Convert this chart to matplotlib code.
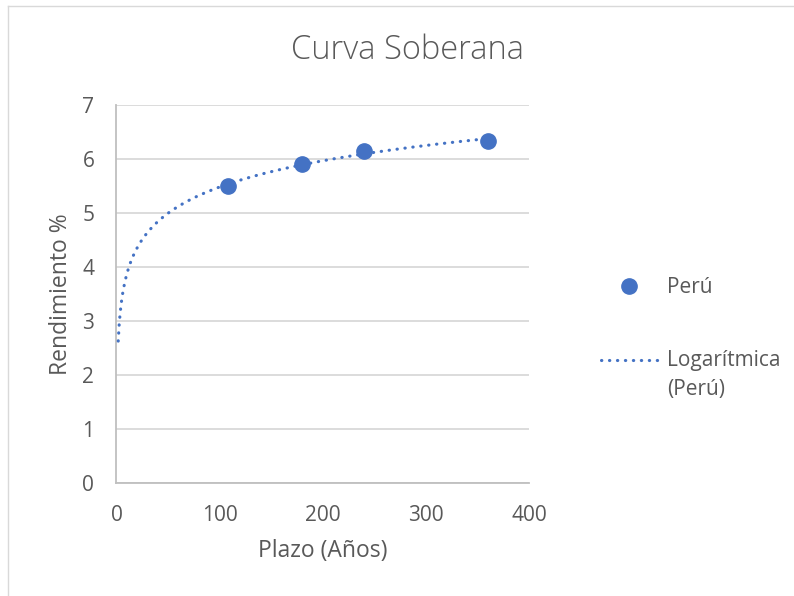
import numpy as np
import matplotlib
matplotlib.use("Agg")
import matplotlib.pyplot as plt
from matplotlib.lines import Line2D
from matplotlib.legend_handler import HandlerLine2D

# datos
plazo = [108, 180, 240, 360]
rendimiento = [5.50, 5.91, 6.14, 6.33]
x_ticks = [0, 100, 200, 300, 400]
y_ticks = [0, 1, 2, 3, 4, 5, 6, 7]

azul = "#4472C4"
gris_texto = "#595959"

plt.rcParams["font.family"] = ["Open Sans", "DejaVu Sans"]


# muestra de leyenda subida para quedar a la altura de la primera linea del texto
class HandlerLineaArriba(HandlerLine2D):
    def __init__(self, subir, **kw):
        super().__init__(**kw)
        self.subir = subir

    def create_artists(self, legend, orig_handle, xdescent, ydescent, width,
                       height, fontsize, trans):
        arts = super().create_artists(legend, orig_handle, xdescent, ydescent,
                                      width, height, fontsize, trans)
        for art in arts:
            art.set_ydata(np.asarray(art.get_ydata()) + self.subir)
        return arts


fig = plt.figure(figsize=(7.94, 5.96), dpi=100)
ax = fig.add_axes([0.1467, 0.1901, 0.5195, 0.6342])

# linea de tendencia logaritmica (ajuste y = a ln x + b)
a, b = np.polyfit(np.log(plazo), rendimiento, 1)
xt = np.linspace(1.7, max(plazo), 400)
tend, = ax.plot(xt, a * np.log(xt) + b, color=azul, lw=2.25,
                linestyle=(0, (0.1, 2.45)), dash_capstyle="round",
                label="Logarítmica\n(Perú)", zorder=3)
puntos, = ax.plot(plazo, rendimiento, "o", color=azul, ms=11, label="Perú", zorder=4)

ax.set_xlim(0, 400)
ax.set_ylim(0, 7)
ax.set_xticks(x_ticks)
ax.set_yticks(y_ticks)
ax.grid(axis="y", color="#D9D9D9", lw=1.3)
ax.set_axisbelow(True)
for s in ["top", "right"]:
    ax.spines[s].set_visible(False)
for s in ["left", "bottom"]:
    ax.spines[s].set_color("#BFBFBF")
    ax.spines[s].set_linewidth(1.3)
ax.tick_params(length=0, pad=16, labelsize=15, labelcolor=gris_texto)

ax.set_xlabel("Plazo (Años)", fontsize=16.5, color=gris_texto)
ax.xaxis.set_label_coords(0.5, -0.181)
ax.xaxis.label.set_va("center")
ax.set_ylabel("Rendimiento %", fontsize=16.5, color=gris_texto)
ax.yaxis.set_label_coords(-0.135, 0.5)
ax.yaxis.label.set_va("center")

fig.text(0.513, 0.916, "Curva Soberana", fontsize=23.5, color=gris_texto,
         ha="center", va="center", fontweight="light")

leg = fig.legend([puntos, tend], ["Perú", "Logarítmica\n(Perú)"],
                 loc="center left", bbox_to_anchor=(0.733, 0.432),
                 frameon=False, fontsize=15, labelcolor=gris_texto,
                 handlelength=2.74, handletextpad=0.45, labelspacing=2.5,
                 handler_map={tend: HandlerLineaArriba(11.5)})
leg.get_texts()[1].set_linespacing(1.5)

# borde del area del grafico (solo arriba e izquierda visibles)
fig.add_artist(Line2D([8 / 794, 8 / 794], [0, 1 - 6 / 596], color="#D9D9D9", lw=1))
fig.add_artist(Line2D([8 / 794, 1], [1 - 6 / 596, 1 - 6 / 596], color="#D9D9D9", lw=1))

fig.savefig("out.png", dpi=100)
